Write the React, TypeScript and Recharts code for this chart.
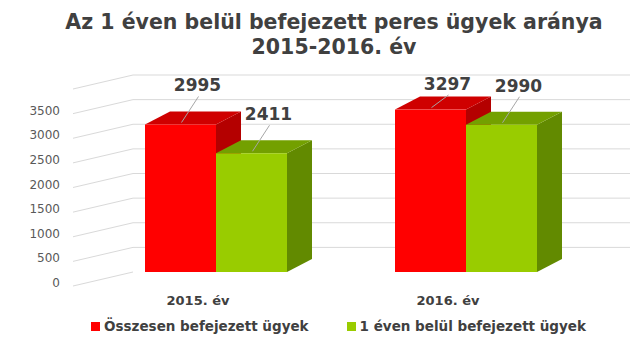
import React from 'react';
import { BarChart, Bar, XAxis, YAxis, CartesianGrid, LabelList, Legend, Customized } from 'recharts';

const categories = ['2015. év', '2016. év'];
const totalCases = [2995, 3297];
const withinYearCases = [2411, 2990];
const yTicks = [0, 500, 1000, 1500, 2000, 2500, 3000, 3500, 4000];
const seriesNames = ['Összesen befejezett ügyek', '1 éven belül befejezett ügyek'];
const titleLines = ['Az 1 éven belül befejezett peres ügyek aránya', '2015-2016. év'];

const data = categories.map((c, i) => ({ name: c, total: totalCases[i], within: withinYearCases[i] }));

const W = 630;
const H = 340;
const MARGIN = { top: 75, right: 39, bottom: 0, left: 0 };
const X_AXIS_H = 68;
const Y_AXIS_W = 91;
const PLOT_BOTTOM = H - MARGIN.bottom - X_AXIS_H;
const PLOT_TOP = MARGIN.top;
const DEPTH_X = 25;
const DEPTH_Y = -13;
const BACK_SHIFT = 42;
const FRONT_SHIFT = -18;
const FONT = '"DejaVu Sans", sans-serif';
const TEXT_DARK = '#404040';
const GRID = '#d9d9d9';

const RED = { front: '#ff0000', top: '#cf0000', side: '#b40000' };
const GREEN = { front: '#99cc00', top: '#73a000', side: '#628a00' };
const SERIES_COLORS = [RED.front, GREEN.front];

const Box3D = (props: any) => {
  const { x, y, width, height, colors } = props;
  if (width == null || height == null) return null;
  const r = x + width;
  const b = y + height;
  return (
    <g>
      <polygon points={`${r},${y} ${r + DEPTH_X},${y + DEPTH_Y} ${r + DEPTH_X},${b + DEPTH_Y} ${r},${b}`} fill={colors.side} />
      <polygon points={`${x},${y} ${x + DEPTH_X},${y + DEPTH_Y} ${r + DEPTH_X},${y + DEPTH_Y} ${r},${y}`} fill={colors.top} />
      <rect x={x} y={y} width={width} height={height} fill={colors.front} />
    </g>
  );
};

const GridLine = (p: any) => {
  const { x1, x2, y1 } = p;
  const backLeft = x1 + BACK_SHIFT;
  const frontLeft = x1 + FRONT_SHIFT;
  const isFloor = Math.abs(y1 - PLOT_BOTTOM) < 0.5;
  return (
    <g key={p.key}>
      {!isFloor && <line x1={backLeft} x2={x2 + BACK_SHIFT - 3} y1={y1} y2={y1} stroke={GRID} strokeWidth={1} />}
      <line x1={frontLeft} y1={y1 + 14} x2={backLeft} y2={y1} stroke={GRID} strokeWidth={1} />
    </g>
  );
};

const YTick = (p: any) => {
  const { x, y, payload } = p;
  if (payload.value === 4000) return <g />;
  return (
    <text x={x} y={y + 15} textAnchor="end" fontFamily={FONT} fontSize={12} fill="#595959">
      {payload.value}
    </text>
  );
};

const XTick = (p: any) => {
  const { x, y, payload } = p;
  return (
    <text x={x + FRONT_SHIFT} y={y + 25} textAnchor="middle" fontFamily={FONT} fontSize={13} fontWeight={700} fill={TEXT_DARK}>
      {payload.value}
    </text>
  );
};

const ValueLabel = (p: any) => {
  const { x, y, width, value } = p;
  const cx = x + width / 2;
  const tx = cx + 17;
  const baseline = Math.max(y - 33, PLOT_TOP + 15);
  return (
    <g>
      <line x1={tx + 1} y1={baseline + 5} x2={cx + 1} y2={y - 2} stroke="#a6a6a6" strokeWidth={1} />
      <text x={tx} y={baseline} textAnchor="middle" fontFamily={FONT} fontSize={17} fontWeight={700} fill={TEXT_DARK}>
        {value}
      </text>
    </g>
  );
};

const Title = () => (
  <g>
    <text x={334} y={29} textAnchor="middle" fontFamily={FONT} fontSize={20.5} fontWeight={700} fill={TEXT_DARK}>
      {titleLines[0]}
    </text>
    <text x={334} y={54} textAnchor="middle" fontFamily={FONT} fontSize={20.5} fontWeight={700} fill={TEXT_DARK}>
      {titleLines[1]}
    </text>
  </g>
);

const LegendContent = () => (
  <div style={{ display: 'flex', justifyContent: 'center', gap: 38, paddingLeft: 47, fontFamily: FONT, fontSize: 13.5, fontWeight: 700, color: TEXT_DARK }}>
    {seriesNames.map((name, i) => (
      <span key={name} style={{ display: 'inline-flex', alignItems: 'center', whiteSpace: 'nowrap' }}>
        <span style={{ display: 'inline-block', width: 9, height: 9, background: SERIES_COLORS[i], marginRight: 4 }} />
        {name}
      </span>
    ))}
  </div>
);

export default function App() {
  return (
    <div style={{ position: 'absolute', left: 0, top: 0, width: W, height: H, background: '#fff' }}>
      <BarChart width={W} height={H} data={data} margin={MARGIN} barCategoryGap="21.6%" barGap={0}>
        <CartesianGrid vertical={false} horizontal={GridLine} />
        <XAxis dataKey="name" height={X_AXIS_H} tickLine={false} axisLine={false} tick={XTick} interval={0} />
        <YAxis
          width={Y_AXIS_W}
          domain={[0, 4000]}
          ticks={yTicks}
          tickLine={false}
          axisLine={false}
          tickSize={6}
          tickMargin={25}
          tick={YTick}
        />
        <Legend
          verticalAlign="bottom"
          content={LegendContent}
          wrapperStyle={{ top: 318, left: 0, width: W, height: 0, overflow: 'visible' }}
        />
        <Bar dataKey="total" name={seriesNames[0]} fill={RED.front} isAnimationActive={false} shape={(s: any) => <Box3D {...s} colors={RED} />}>
          <LabelList dataKey="total" content={ValueLabel} />
        </Bar>
        <Bar dataKey="within" name={seriesNames[1]} fill={GREEN.front} isAnimationActive={false} shape={(s: any) => <Box3D {...s} colors={GREEN} />}>
          <LabelList dataKey="within" content={ValueLabel} />
        </Bar>
        <Customized component={Title} />
      </BarChart>
    </div>
  );
}
